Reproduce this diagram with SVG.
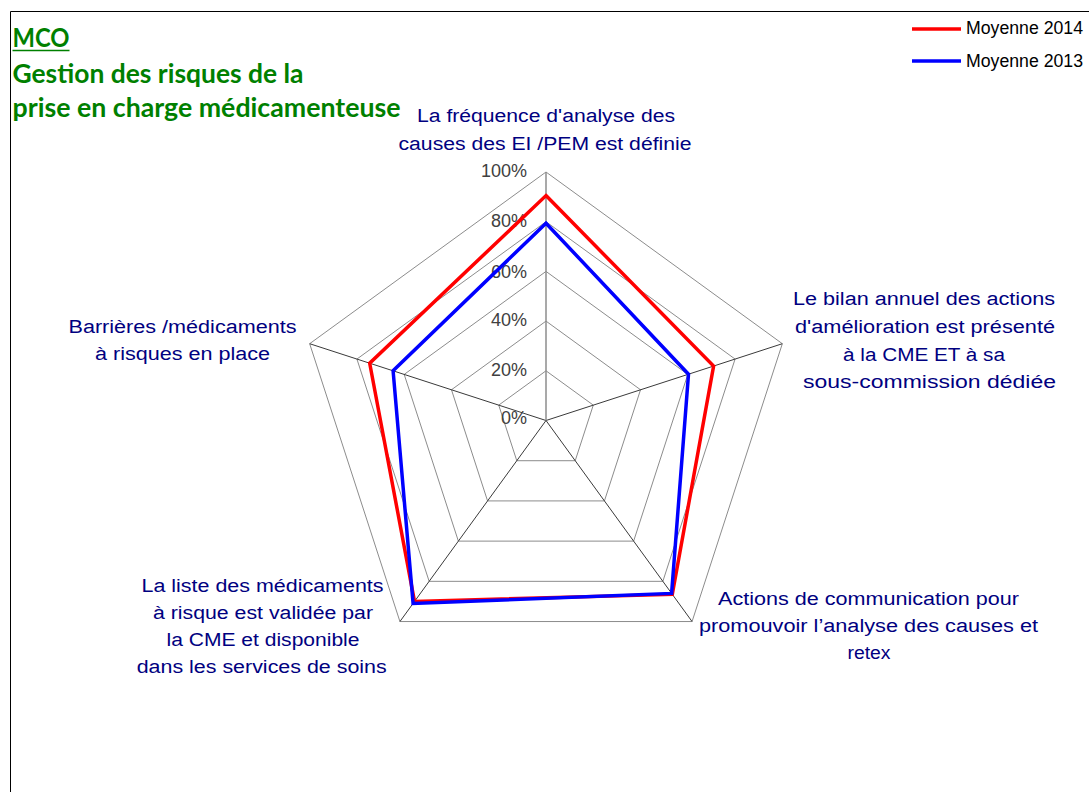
<svg xmlns="http://www.w3.org/2000/svg" width="1089" height="792" viewBox="0 0 1089 792">
<style>
.ring{fill:none;stroke:#8c8c8c;stroke-width:1}
.spoke{stroke:#3a3a3a;stroke-width:1}
.spoke-top{stroke:#8c8c8c;stroke-width:1.5}
.pct{font-family:"Liberation Sans",Arial,sans-serif;font-size:18px;fill:#404040;text-anchor:end}
.cat{font-family:"Liberation Sans",Arial,sans-serif;font-size:18px;fill:#000080;text-anchor:middle}
.title{font-family:Lato,"Noto Sans",sans-serif;font-weight:bold;font-size:26px;fill:#008000}
.leg{font-family:"Liberation Sans",Arial,sans-serif;font-size:17.5px;fill:#000}
.s2014{fill:none;stroke:#ff0000;stroke-width:3.5;stroke-linejoin:miter}
.s2013{fill:none;stroke:#0000ff;stroke-width:3.5;stroke-linejoin:miter}
</style>
<rect x="0" y="0" width="1089" height="792" fill="#fff"/>
<path d="M10.5,792 V11.5 H1089" fill="none" stroke="#000" stroke-width="1"/>

<g id="grid">
<polygon class="ring" points="546,172 782.34,343.71 692.07,621.54 399.93,621.54 309.66,343.71"/>
<polygon class="ring" points="546,221.7 735.07,359.07 662.85,581.33 429.15,581.33 356.93,359.07"/>
<polygon class="ring" points="546,271.4 687.8,374.42 633.64,541.12 458.36,541.12 404.2,374.42"/>
<polygon class="ring" points="546,321.1 640.53,389.78 604.43,500.92 487.57,500.92 451.47,389.78"/>
<polygon class="ring" points="546,370.8 593.27,405.14 575.21,460.71 516.79,460.71 498.73,405.14"/>
<line class="spoke" x1="546" y1="420.5" x2="782.34" y2="343.71"/>
<line class="spoke" x1="546" y1="420.5" x2="692.07" y2="621.54"/>
<line class="spoke" x1="546" y1="420.5" x2="399.93" y2="621.54"/>
<line class="spoke" x1="546" y1="420.5" x2="309.66" y2="343.71"/>
<line class="spoke-top" x1="546" y1="420.5" x2="546" y2="172"/>
</g>

<g id="axis-labels">
<text class="pct" x="527" y="177">100%</text>
<text class="pct" x="527" y="227">80%</text>
<text class="pct" x="527" y="278">60%</text>
<text class="pct" x="527" y="326">40%</text>
<text class="pct" x="527" y="376">20%</text>
<text class="pct" x="527" y="424">0%</text>
</g>

<g id="connectors">
<polygon id="series-2014" class="s2014" points="546,195.6 713.6,366.1 672.3,594.4 414.5,601.4 369.7,363.2"/>
<polygon id="series-2013" class="s2013" points="546,223.2 688.5,374.2 671.6,593.4 413.1,603.4 393.1,370.8"/>
</g>

<g id="cat-top">
<text class="cat" x="546" y="122" textLength="258" lengthAdjust="spacingAndGlyphs">La fréquence d'analyse des</text>
<text class="cat" x="545" y="150" textLength="293" lengthAdjust="spacingAndGlyphs">causes des EI /PEM est définie</text>
</g>
<g id="cat-right">
<text class="cat" x="924" y="305" textLength="262" lengthAdjust="spacingAndGlyphs">Le bilan annuel des actions</text>
<text class="cat" x="925" y="333" textLength="260" lengthAdjust="spacingAndGlyphs">d'amélioration est présenté</text>
<text class="cat" x="924" y="361" textLength="162" lengthAdjust="spacingAndGlyphs">à la CME ET à sa</text>
<text class="cat" x="929.5" y="388" textLength="253" lengthAdjust="spacingAndGlyphs">sous-commission dédiée</text>
</g>
<g id="cat-bottom-right">
<text class="cat" x="868.5" y="605" textLength="301" lengthAdjust="spacingAndGlyphs">Actions de communication pour</text>
<text class="cat" x="868.5" y="632" textLength="339" lengthAdjust="spacingAndGlyphs">promouvoir l’analyse des causes et</text>
<text class="cat" x="869" y="659" textLength="43" lengthAdjust="spacingAndGlyphs">retex</text>
</g>
<g id="cat-bottom-left">
<text class="cat" x="262.5" y="592" textLength="242" lengthAdjust="spacingAndGlyphs">La liste des médicaments</text>
<text class="cat" x="263" y="619" textLength="220" lengthAdjust="spacingAndGlyphs">à risque est validée par</text>
<text class="cat" x="263" y="646" textLength="193" lengthAdjust="spacingAndGlyphs">la CME et disponible</text>
<text class="cat" x="261.7" y="673" textLength="250" lengthAdjust="spacingAndGlyphs">dans les services de soins</text>
</g>
<g id="cat-left">
<text class="cat" x="182.5" y="333" textLength="228" lengthAdjust="spacingAndGlyphs">Barrières /médicaments</text>
<text class="cat" x="182.5" y="360" textLength="175" lengthAdjust="spacingAndGlyphs">à risques en place</text>
</g>

<g id="title">
<text class="title" x="12.5" y="46.5" textLength="57" lengthAdjust="spacingAndGlyphs">MCO</text>
<line x1="12.5" y1="50.5" x2="69.5" y2="50.5" stroke="#008000" stroke-width="1.6"/>
<text class="title" x="12.5" y="82.5" textLength="291" lengthAdjust="spacingAndGlyphs">Gestion des risques de la</text>
<text class="title" x="12.5" y="117" textLength="388" lengthAdjust="spacingAndGlyphs">prise en charge médicamenteuse</text>
</g>

<g id="legend">
<line x1="912" y1="29" x2="961" y2="29" stroke="#ff0000" stroke-width="3.5"/>
<text class="leg" x="966" y="33.5" textLength="117" lengthAdjust="spacingAndGlyphs">Moyenne 2014</text>
<line x1="912" y1="61" x2="961" y2="61" stroke="#0000ff" stroke-width="3.5"/>
<text class="leg" x="966" y="66.5" textLength="117" lengthAdjust="spacingAndGlyphs">Moyenne 2013</text>
</g>
</svg>
